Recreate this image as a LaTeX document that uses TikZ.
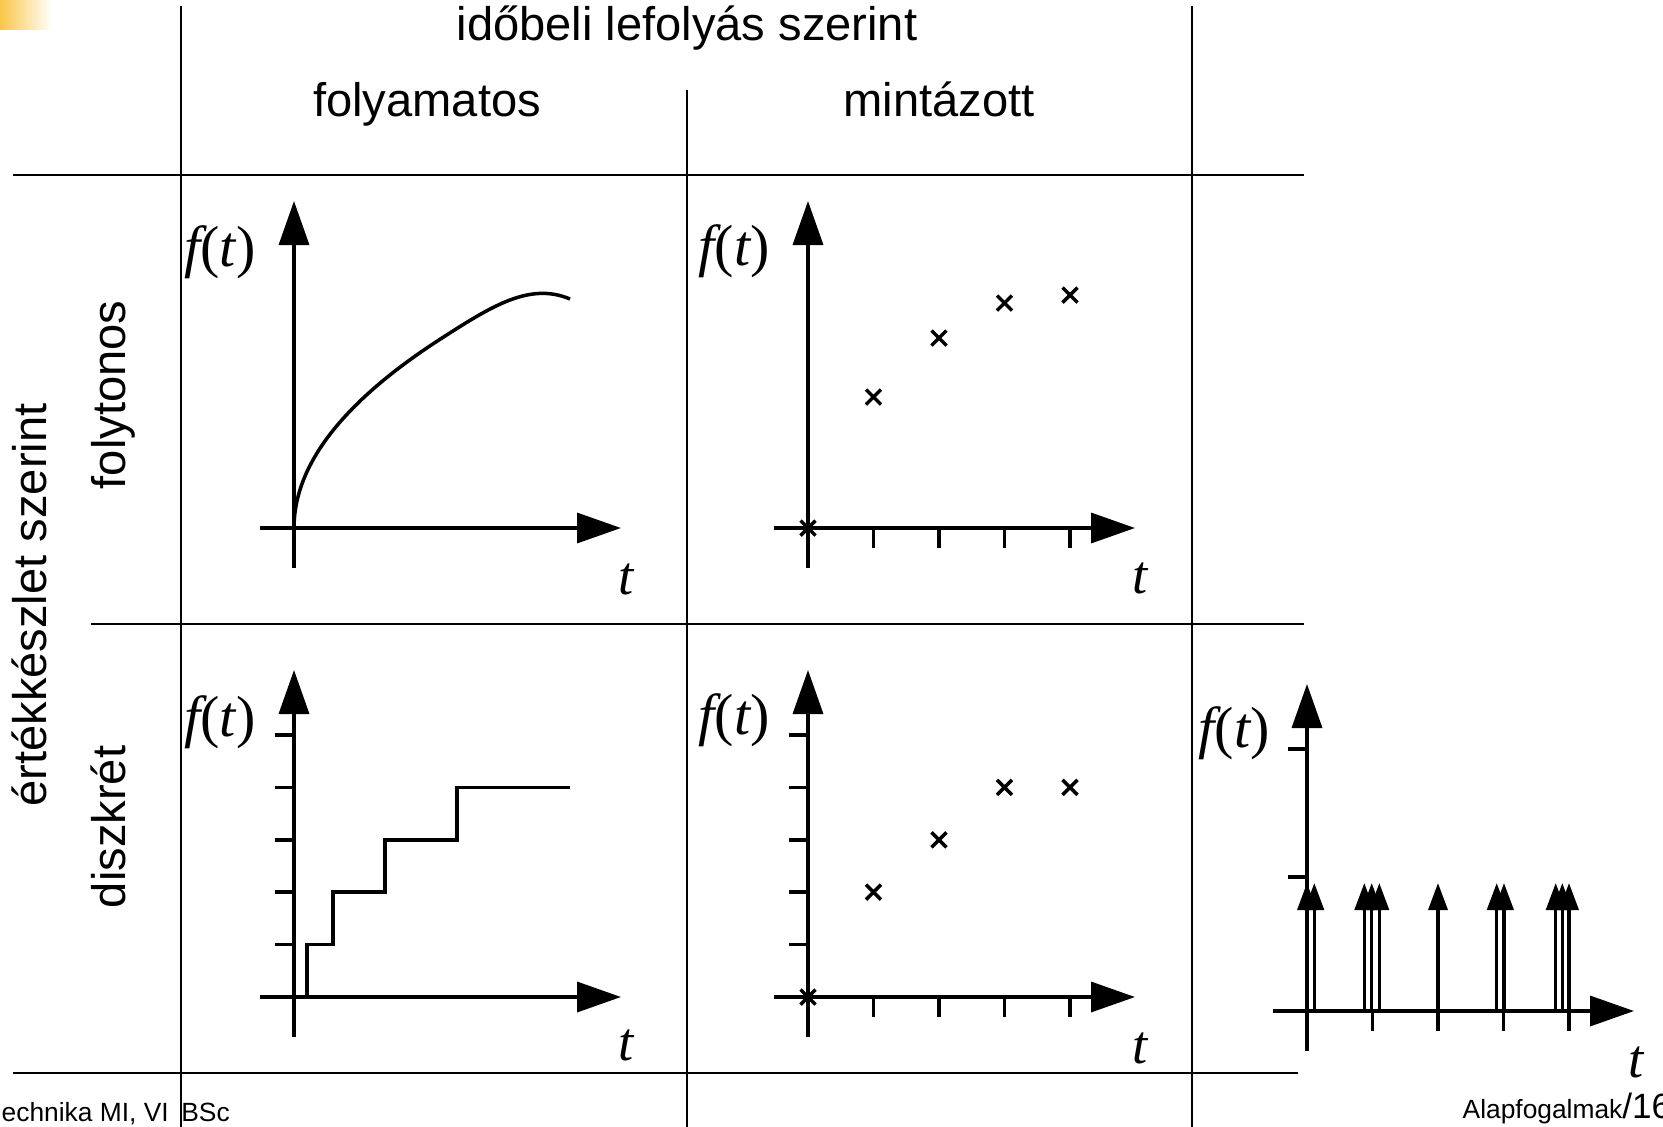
\documentclass[tikz,border=0pt]{standalone}
\usepackage{fontspec}
\setmainfont{Liberation Sans}
\newfontfamily\tnr{Liberation Serif}
\usetikzlibrary{arrows.meta}

\definecolor{cornerorange}{RGB}{250,198,72}

\newcommand{\fvar}{{\tnr\itshape f}{\tnr(}{\tnr\itshape t}{\tnr)}}
\newcommand{\tvar}{{\tnr\itshape t}}

\begin{document}
\begin{tikzpicture}[
		x=0.1mm, y=-0.1mm,
		axis/.style={-{Triangle[length=4.4mm, width=3mm]}, line width=1pt},
		impulse/.style={-{Triangle[length=2.7mm, width=1.9mm]}, line width=1pt},
		gridline/.style={line width=0.8pt},
		tick/.style={line width=1pt},
		curve/.style={line width=1pt},
		sample/.style={line width=1pt},
		head/.style={font=\fontsize{13.4}{16}\selectfont, inner sep=0pt},
		fn/.style={font=\fontsize{16.5}{19}\selectfont, inner sep=0pt},
		tn/.style={font=\fontsize{15.5}{18}\selectfont, inner sep=0pt},
		foot/.style={font=\fontsize{7.5}{9}\selectfont, inner sep=0pt}
		]
		
		\useasboundingbox (0,0) rectangle (1663,1127);
		
		% corner decoration
		\fill[left color=cornerorange, right color=white] (0,0) rectangle (52,29);
		
		% --- TABLE GRID ---
		\draw[gridline] (181,6) -- (181,1127);
		\draw[gridline] (687,90) -- (687,1127);
		\draw[gridline] (1192,6) -- (1192,1127);
		\draw[gridline] (13,175) -- (1304,175);
		\draw[gridline] (91,624) -- (1304,624);
		\draw[gridline] (13,1073) -- (1298,1073);
		
		% --- HEADINGS ---
		\node[head, anchor=base] (timehead) at (687,40) {időbeli lefolyás szerint};
		\node[head, anchor=base] (conthead) at (427,116) {folyamatos};
		\node[head, anchor=base] (samphead) at (939,116) {mintázott};
		\node[head, anchor=base, rotate=90] (valhead) at (47,605) {értékkészlet szerint};
		\node[head, anchor=base, rotate=90] (cvalhead) at (125,395) {folytonos};
		\node[head, anchor=base, rotate=90] (dvalhead) at (125,827) {diszkrét};
		
		% --- AXES ---
		\coordinate (oA) at (294,528);
		\coordinate (oB) at (808,528);
		\coordinate (oC) at (294,997);
		\coordinate (oD) at (808,997);
		\coordinate (oE) at (1307,1011);
		
		\foreach \o in {oA,oB,oC,oD,oE} {
			\draw[axis] (\o) ++(-34,0) -- ++(361,0);
			\draw[axis] (\o) ++(0,40) -- ++(0,-367);
		}
		
		% sampling instants
		\foreach \o in {oB,oD,oE} {
			\foreach \k in {1,...,4} {
				\draw[tick] (\o) ++(\k*65.5,0) -- ++(0,20);
			}
		}
		
		% quantisation levels
		\foreach \o in {oC,oD} {
			\foreach \k in {1,...,5} {
				\draw[tick] (\o) ++(-19,-\k*52.4) -- ++(19,0);
			}
		}
		\foreach \dy in {134,262} {
			\draw[tick] (oE) ++(-19,-\dy) -- ++(19,0);
		}
		
		% --- SIGNALS ---
		% continuous time, continuous value
		\draw[curve] (oA) .. controls (294,464.7) and (343.3,401.3) .. (442,338)
			.. controls (492,305.9) and (530,282) .. (570,299);
		
		% continuous time, discrete value
		\draw[curve] (oC) -| ++(13,-52.4) -| ++(26,-52.4) -| ++(52,-52.4) -| ++(72,-52.4) -- ++(113,0);
		
		% sampled, continuous value
		\foreach \px/\py in {0/0, 65.5/-131, 131/-190, 196.5/-225, 262/-233} {
			\draw[sample] (oB) ++(\px-7.5,\py-7.5) -- ++(15,15) ++(0,-15) -- ++(-15,15);
		}
		
		% sampled, discrete value
		\foreach \px/\py in {0/0, 65.5/-104.8, 131/-157.2, 196.5/-209.6, 262/-209.6} {
			\draw[sample] (oD) ++(\px-7.5,\py-7.5) -- ++(15,15) ++(0,-15) -- ++(-15,15);
		}
		
		% impulses
		\foreach \dx in {0,7.3,57.3,64.7,72.3,131,189.7,197,248.7,255.3,262} {
			\draw[impulse] (oE) ++(\dx,0) -- ++(0,-128);
		}
		
		% --- AXIS LABELS ---
		\node[fn] (fA) at (220,252) {\fvar};
		\node[fn] (fB) at (734,251) {\fvar};
		\node[fn] (fC) at (220,722) {\fvar};
		\node[fn] (fD) at (734,720) {\fvar};
		\node[fn] (fE) at (1234,733) {\fvar};
		
		\node[tn] (tA) at (626,579) {\tvar};
		\node[tn] (tB) at (1140,578) {\tvar};
		\node[tn] (tC) at (626,1045) {\tvar};
		\node[tn] (tD) at (1140,1048) {\tvar};
		\node[tn] (tE) at (1636,1062) {\tvar};
		
		% --- FOOTER ---
		\node[foot, anchor=base west] (footleft) at (1,1121) {echnika MI, VI\hspace{1.27mm}BSc};
		\node[foot, anchor=base west] (footright) at (1462,1118) {Alapfogalmak{\fontsize{10}{12}\selectfont/16}};
		
	\end{tikzpicture}
\end{document}
